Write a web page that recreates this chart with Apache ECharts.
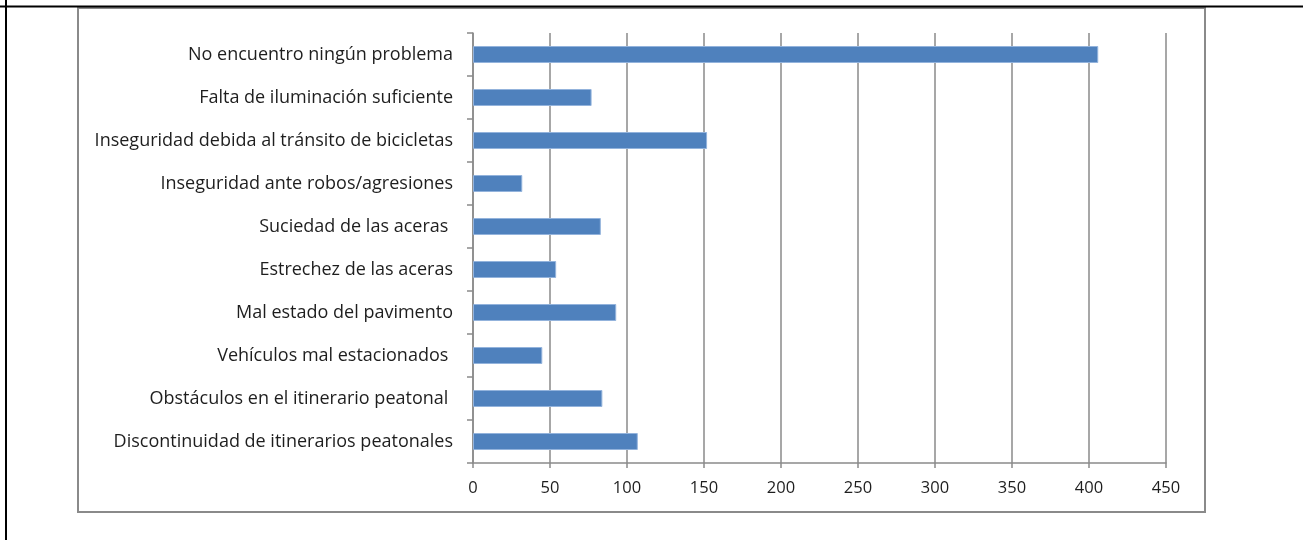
<!DOCTYPE html>
<html>
<head>
<meta charset="utf-8">
<style>
  html, body { margin: 0; padding: 0; background: #ffffff; }
  #chart { width: 1303px; height: 540px; }
</style>
<script src="https://cdn.jsdelivr.net/npm/echarts@6/dist/echarts.min.js"></script>
</head>
<body>
<div id="chart"></div>
<script>
// Problems encountered by pedestrians (number of answers), listed top to bottom
const categories = [
  'No encuentro ningún problema',
  'Falta de iluminación suficiente',
  'Inseguridad debida al tránsito de bicicletas',
  'Inseguridad ante robos/agresiones',
  'Suciedad de las aceras ',
  'Estrechez de las aceras',
  'Mal estado del pavimento',
  'Vehículos mal estacionados ',
  'Obstáculos en el itinerario peatonal ',
  'Discontinuidad de itinerarios peatonales'
];
const answers = [406, 77, 152, 32, 83, 54, 93, 45, 84, 107];

const axisMin = 0;
const axisMax = 450;
const axisStep = 50;

const FONT = '"Open Sans"';
const TEXT = '#1e1e1e';
const GRID = '#8a8a8a';

const chart = echarts.init(document.getElementById('chart'), null, { renderer: 'canvas' });

chart.setOption({
  animation: false,
  backgroundColor: '#ffffff',
  grid: { left: 473, right: 137, top: 33, bottom: 77, containLabel: false },
  xAxis: {
    type: 'value',
    min: axisMin,
    max: axisMax,
    interval: axisStep,
    axisLine: { show: true, lineStyle: { color: GRID, width: 1.5 } },
    axisTick: { show: true, length: 5, lineStyle: { color: GRID, width: 1.5 } },
    splitLine: { show: true, lineStyle: { color: GRID, width: 1.5 } },
    axisLabel: { color: TEXT, fontFamily: FONT, fontSize: 16.5, margin: 17 }
  },
  yAxis: {
    type: 'category',
    inverse: true,
    data: categories,
    axisLine: { show: true, lineStyle: { color: GRID, width: 1.5 } },
    axisTick: { show: true, length: 6, alignWithLabel: false, lineStyle: { color: GRID, width: 1.5 } },
    splitLine: { show: false },
    axisLabel: { color: TEXT, fontFamily: FONT, fontSize: 18, margin: 20, padding: [3, 0, 0, 0] }
  },
  series: [{
    type: 'bar',
    data: answers,
    barWidth: 17,
    itemStyle: { color: '#4f81bd', borderColor: '#93b3dc', borderWidth: 1 }
  }],
  graphic: [
    // chart frame
    { type: 'rect', silent: true, z: -1,
      shape: { x: 78, y: 8, width: 1127, height: 504 },
      style: { fill: 'none', stroke: '#8a8a8a', lineWidth: 2 } },
    // surrounding table rules
    { type: 'line', silent: true,
      shape: { x1: 0, y1: 6.5, x2: 1303, y2: 6.5 },
      style: { stroke: '#000000', lineWidth: 2 } },
    { type: 'line', silent: true,
      shape: { x1: 6, y1: 0, x2: 6, y2: 540 },
      style: { stroke: '#000000', lineWidth: 2 } }
  ]
});
</script>
</body>
</html>
